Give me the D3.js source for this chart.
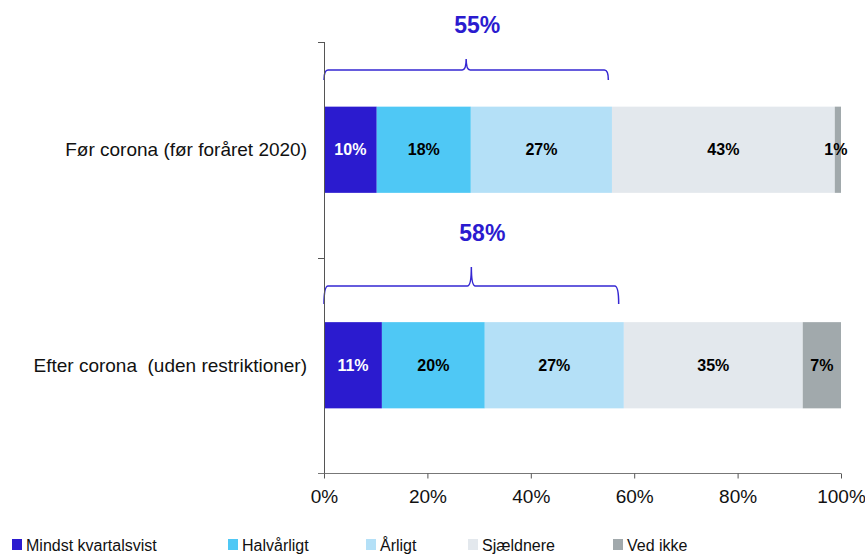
<!DOCTYPE html>
<html>
<head>
<meta charset="utf-8">
<script src="https://cdn.jsdelivr.net/npm/d3@7"></script>
<style>
  body { margin: 0; background: #fff; }
  svg { font-family: "Liberation Sans", Arial, sans-serif; }
</style>
</head>
<body>
<svg id="chart"></svg>
<script>
const categories = ["Før corona (før foråret 2020)", "Efter corona  (uden restriktioner)"];
const seriesNames = ["Mindst kvartalsvist", "Halvårligt", "Årligt", "Sjældnere", "Ved ikke"];
const before = [10.2, 18.2, 27.3, 43.1, 1.2];
const after = [11.2, 19.9, 26.9, 34.6, 7.4];
const valueLabels = [["10%", "18%", "27%", "43%", "1%"], ["11%", "20%", "27%", "35%", "7%"]];
const braceLabels = ["55%", "58%"];
const braceTotals = [55, 57];
const xTicks = [0, 20, 40, 60, 80, 100];

const colors = ["#2b1bcf", "#4fc8f5", "#b4e0f7", "#e3e8ed", "#a1a9ac"];
const labelColors = ["#fff", "#000", "#000", "#000", "#000"];

const width = 865, height = 556;
const svg = d3.select("#chart").attr("width", width).attr("height", height);

const x = d3.scaleLinear().domain([0, 100]).range([324, 841]);
const y = d3.scaleBand().domain(categories).range([42, 473]).paddingInner(0.6).paddingOuter(0.3);

const rows = [before, after];

// stacked bars
rows.forEach((vals, r) => {
  let cum = 0;
  const segs = vals.map((v, i) => { const s = { i, v, x0: cum, x1: cum + v }; cum += v; return s; });
  const g = svg.append("g");
  g.selectAll("rect").data(segs).join("rect")
    .attr("x", d => x(d.x0))
    .attr("y", y(categories[r]))
    .attr("width", d => x(d.x1) - x(d.x0))
    .attr("height", y.bandwidth())
    .attr("fill", d => colors[d.i]);
  g.selectAll("text").data(segs).join("text")
    .attr("x", d => x((d.x0 + d.x1) / 2) + (d.i === 4 && d.v < 3 ? -2 : 0))
    .attr("y", y(categories[r]) + y.bandwidth() / 2)
    .attr("dy", "0.35em")
    .attr("text-anchor", "middle")
    .attr("font-size", 16)
    .attr("font-weight", "bold")
    .attr("fill", d => labelColors[d.i])
    .text(d => valueLabels[r][d.i]);
});

// braces
const braceStyle = [{ yb: 70, tip: 11, end: 10 }, { yb: 286, tip: 19, end: 18 }];
braceTotals.forEach((t, r) => {
  const x0 = x(0), x1 = x(t), xm = (x0 + x1) / 2;
  const { yb, tip, end } = braceStyle[r];
  const p = d3.path();
  p.moveTo(x0, yb + end);
  p.quadraticCurveTo(x0, yb, x0 + 4, yb);
  p.lineTo(xm - 4, yb);
  p.quadraticCurveTo(xm, yb, xm, yb - tip);
  p.quadraticCurveTo(xm, yb, xm + 4, yb);
  p.lineTo(x1 - 4, yb);
  p.quadraticCurveTo(x1, yb, x1, yb + end);
  svg.append("path").attr("d", p.toString())
    .attr("fill", "none").attr("stroke", "#3527d2").attr("stroke-width", 1.5);
  svg.append("text")
    .attr("x", xm + 11)
    .attr("y", yb - tip - 26)
    .attr("text-anchor", "middle")
    .attr("font-size", 23)
    .attr("font-weight", "bold")
    .attr("fill", "#2b1bcf")
    .text(braceLabels[r]);
});

// y axis
const yAxis = svg.append("g").attr("stroke", "#555").attr("stroke-width", 1);
yAxis.append("line").attr("x1", 324.5).attr("x2", 324.5).attr("y1", 42).attr("y2", 473);
d3.range(categories.length + 1).forEach(i => {
  const yy = Math.round(42 + y.step() * i) + 0.5;
  yAxis.append("line").attr("x1", 318).attr("x2", 324.5).attr("y1", yy).attr("y2", yy);
});
svg.selectAll(".cat").data(categories).join("text")
  .attr("class", "cat")
  .attr("x", 307)
  .attr("y", d => y(d) + y.bandwidth() / 2)
  .attr("dy", "0.35em")
  .attr("text-anchor", "end")
  .attr("font-size", 19)
  .attr("fill", "#111")
  .style("white-space", "pre")
  .text(d => d);

// x axis
const xAxis = svg.append("g")
  .attr("transform", "translate(0,473.5)")
  .call(d3.axisBottom(x).tickValues(xTicks).tickSize(5).tickSizeOuter(0).tickFormat(d => d + "%"));
xAxis.select(".domain").attr("stroke", "#777").attr("d", "M318,0H841");
xAxis.selectAll(".tick line").attr("stroke", "#555");
xAxis.selectAll(".tick text")
  .attr("font-size", 19).attr("font-family", "Liberation Sans, Arial, sans-serif")
  .attr("fill", "#111").attr("y", 16);

// legend
const legendX = [12, 228, 366, 468, 613];
const legend = svg.selectAll(".leg").data(seriesNames).join("g")
  .attr("class", "leg")
  .attr("transform", (d, i) => `translate(${legendX[i]},539)`);
legend.append("rect").attr("width", 10).attr("height", 11).attr("fill", (d, i) => colors[i]);
legend.append("text").attr("x", 14).attr("y", 6).attr("dy", "0.35em")
  .attr("font-size", 16).attr("fill", "#111").text(d => d);
</script>
</body>
</html>
